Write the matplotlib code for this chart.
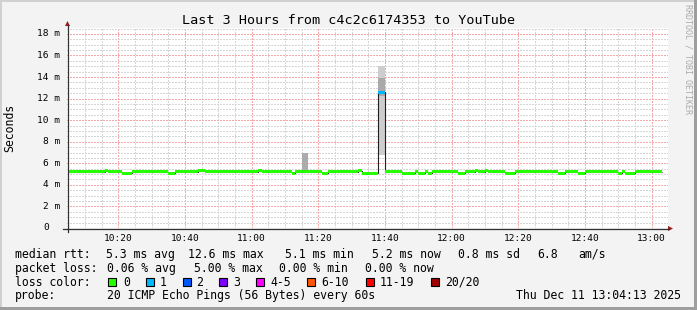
"""SmokePing style latency graph: last 3 hours from c4c2c6174353 to YouTube."""
import numpy as np
import matplotlib
matplotlib.use('Agg')
import matplotlib.pyplot as plt
from matplotlib.lines import Line2D
from matplotlib.patches import Polygon, Rectangle
from matplotlib.transforms import IdentityTransform

W, H = 697, 310
MONO = 'DejaVu Sans Mono'

# median rtt as runs, times in minutes after 10:00, values in ms
run_start = [5, 16, 17, 21, 24, 35, 37, 44, 46, 62, 63, 72, 73, 81, 83, 92, 93,
             98, 100, 105, 109, 110, 112, 113, 114, 122, 124, 127, 128, 130, 131,
             136, 139, 152, 154, 158, 160, 170, 171, 172, 175]
run_end = 183
run_median = [5.2, 5.3, 5.2, 5.1, 5.2, 5.1, 5.2, 5.3, 5.2, 5.3, 5.2, 5.1, 5.2, 5.1,
              5.2, 5.3, 5.1, 12.6, 5.2, 5.1, 5.2, 5.1, 5.2, 5.1, 5.2, 5.1, 5.2, 5.3,
              5.2, 5.3, 5.2, 5.1, 5.2, 5.1, 5.2, 5.1, 5.2, 5.1, 5.2, 5.1, 5.2]
run_loss = [0] * 17 + [1] + [0] * 23   # lost pings out of 20

# smoke (spread of the 20 pings), layered light to dark
smoke_start = [63, 75, 98, 98, 146, 181]
smoke_len = [2, 2, 2, 2, 2, 2]
smoke_lo = [5.2, 5.2, 6.8, 12.2, 5.2, 5.2]
smoke_hi = [5.4, 6.96, 15.0, 13.9, 5.4, 5.4]
smoke_color = ['#e4e4e4', '#ababab', '#cdcdcd', '#a9a9a9', '#e4e4e4', '#e4e4e4']

x_major = [20, 40, 60, 80, 100, 120, 140, 160, 180]
x_labels = ['10:20', '10:40', '11:00', '11:20', '11:40', '12:00', '12:20', '12:40', '13:00']
y_major = [0, 2, 4, 6, 8, 10, 12, 14, 16, 18]

loss_labels = ['0', '1', '2', '3', '4-5', '6-10', '11-19', '20/20']
loss_colors = ['#26ff00', '#00b8ff', '#0059ff', '#7e00ff', '#ff00ff', '#ff5500',
               '#ff0000', '#a00000']

stats_rtt = ['median rtt:', '5.3 ms avg', '12.6 ms max', '5.1 ms min', '5.2 ms now',
             '0.8 ms sd', '6.8', 'am/s']
stats_loss = ['packet loss:', '0.06 % avg', '5.00 % max', '0.00 % min', '0.00 % now']
probe_text = ['probe:', '20 ICMP Echo Pings (56 Bytes) every 60s']
stamp = 'Thu Dec 11 13:04:13 2025'


def fx(px):
    return px / W


def fy(py):
    return 1 - py / H


fig = plt.figure(figsize=(W / 100, H / 100), dpi=100)
fig.patch.set_facecolor('#f3f3f3')

ax = fig.add_axes([fx(67), fy(228), 601 / W, 200 / H])
ax.set_facecolor('white')
ax.set_xlim(4.6, 184.9)
ax.set_ylim(0, 18.55)
for s in ax.spines.values():
    s.set_visible(False)

# grid, crisp 1px dots like rrdtool
ax.set_xticks(x_major)
ax.set_xticklabels(x_labels, family=MONO, fontsize=6.8)
ax.set_xticks(np.arange(5, 185, 5), minor=True)
ax.set_yticks(y_major)
ax.set_yticklabels([])
ax.set_yticks(np.arange(0, 18.6, 0.5), minor=True)
ax.grid(which='major', color='#f6a8a8', ls=(0, (1.4, 1.4)), lw=1.0, antialiased=False)
ax.grid(which='minor', color='#d6d6d6', ls=(0, (1.4, 1.4)), lw=1.0, antialiased=False)
ax.set_axisbelow(True)
ax.tick_params(axis='both', which='both', length=0)
ax.tick_params(axis='x', pad=4.2)

for v in y_major:
    lab = f'{v} m' if v else '0'
    xoff = -7 if v else -18
    ax.text(xoff / 601, v, lab, transform=ax.get_yaxis_transform(), ha='right',
            va='center', family=MONO, fontsize=6.8)

# smoke
ax.bar(smoke_start, np.subtract(smoke_hi, smoke_lo), width=smoke_len,
       bottom=smoke_lo, align='edge', color=smoke_color, lw=0, zorder=2)

# median: thin dark step line plus thick loss coloured band
edges = run_start + [run_end]
ax.stairs(run_median, edges, baseline=None, color='#202020', lw=0.8, zorder=3)
band = 1.5 / (200 / 18.55)
widths = np.diff(edges)
ax.bar(run_start, 2 * band, width=widths, bottom=np.subtract(run_median, band),
       align='edge', color=[loss_colors[l] for l in run_loss], lw=0, zorder=4)

# axes with arrows (pixel coordinates)
ident = IdentityTransform()
axis_col = '#303030'
arrow_col = '#9e1b1b'
fig.add_artist(Line2D([63, 669], [H - 228.5, H - 228.5], transform=ident,
                      color=axis_col, lw=0.9))
fig.add_artist(Line2D([67.5, 67.5], [H - 232, H - 25], transform=ident,
                      color=axis_col, lw=0.9))
fig.add_artist(Polygon([[673, H - 228.5], [668, H - 226], [668, H - 231]],
                       closed=True, transform=ident, color=arrow_col, lw=0))
fig.add_artist(Polygon([[67.5, H - 21], [65, H - 26], [70, H - 26]],
                       closed=True, transform=ident, color=arrow_col, lw=0))

# frame shading
fig.add_artist(Rectangle((0, H - 2), W, 2, transform=ident, color='#d0d0d0', lw=0))
fig.add_artist(Rectangle((0, 0), 2, H, transform=ident, color='#d0d0d0', lw=0))
fig.add_artist(Rectangle((0, 0), W, 3, transform=ident, color='#9e9e9e', lw=0))
fig.add_artist(Rectangle((W - 3, 0), 3, H, transform=ident, color='#9e9e9e', lw=0))

# titles
fig.text(fx(348.5), fy(24), 'Last 3 Hours from c4c2c6174353 to YouTube',
         ha='center', va='baseline', family=MONO, fontsize=9.7)
fig.text(fx(10), fy(128), 'Seconds', rotation=90, ha='center', va='center',
         family=MONO, fontsize=8.3)
fig.text(fx(688), fy(59), 'RRDTOOL / TOBI OETIKER', rotation=270, ha='center',
         va='center', family=MONO, fontsize=6, color='#aaaaaa')

# legend block
rtt_x = [16, 107, 188.3, 286, 372.3, 458.3, 538.3, 579.3]
for txt, x in zip(stats_rtt, rtt_x):
    fig.text(fx(x - 0.7), fy(257.7), txt, va='baseline', family=MONO, fontsize=8.3)
loss_x = [16, 107.3, 195, 279.3, 365.7]
for txt, x in zip(stats_loss, loss_x):
    fig.text(fx(x - 0.7), fy(271.7), txt, va='baseline', family=MONO, fontsize=8.3)

fig.text(fx(15.3), fy(285.7), 'loss color:', va='baseline', family=MONO, fontsize=8.3)
box_x = [108.3, 145.7, 182.7, 219.3, 256, 307.3, 365.7, 431]
lab_x = [124, 160.7, 197.3, 234.3, 270.7, 321.7, 380.7, 445.7]
for lab, col, bx, lx in zip(loss_labels, loss_colors, box_x, lab_x):
    fig.add_artist(Rectangle((bx, H - 286), 8, 8, transform=ident, facecolor=col,
                             edgecolor='black', lw=0.8))
    fig.text(fx(lx - 0.7), fy(285.7), lab, va='baseline', family=MONO, fontsize=8.3)

fig.text(fx(15.3), fy(299.3), probe_text[0], va='baseline', family=MONO, fontsize=8.3)
fig.text(fx(106.6), fy(299.3), probe_text[1], va='baseline', family=MONO, fontsize=8.3)
fig.text(fx(680.5), fy(299.3), stamp, ha='right', va='baseline', family=MONO,
         fontsize=8.3)

fig.savefig('out.png', dpi=100, facecolor=fig.get_facecolor())
